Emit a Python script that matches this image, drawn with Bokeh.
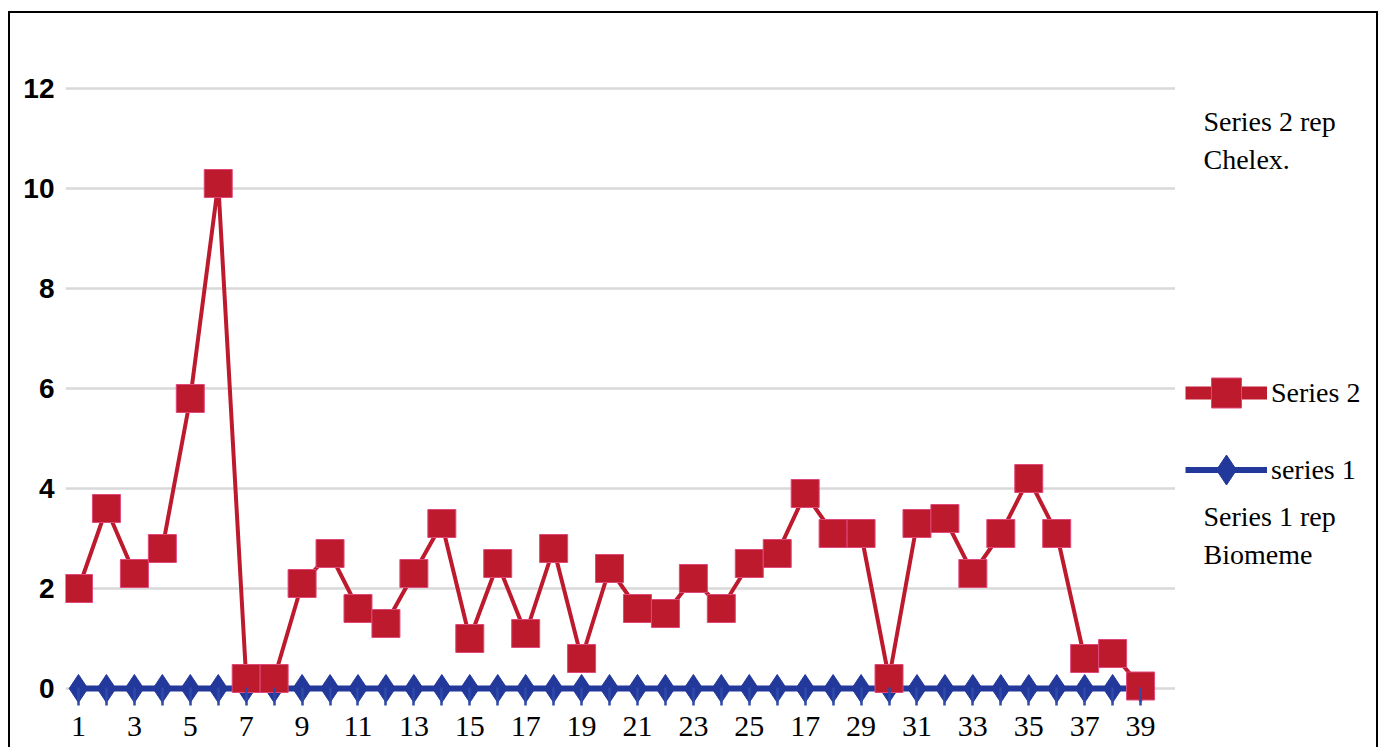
from bokeh.plotting import figure
from bokeh.layouts import row
from bokeh.models import (Range1d, FixedTicker, Legend, LegendItem, Label,
                          ColumnDataSource)
from bokeh.embed import file_html
from bokeh.resources import INLINE

# ---- data ----
samples = list(range(1, 40))
series2 = [2.0, 3.6, 2.3, 2.8, 5.8, 10.1, 0.2, 0.2, 2.1, 2.7,
           1.6, 1.3, 2.3, 3.3, 1.0, 2.5, 1.1, 2.8, 0.6, 2.4,
           1.6, 1.5, 2.2, 1.6, 2.5, 2.7, 3.9, 3.1, 3.1, 0.2,
           3.3, 3.4, 2.3, 3.1, 4.2, 3.1, 0.6, 0.7, 0.05]
series1 = [0, 0, 0, 0, 0, 0, 0, 0, 0, 0,
           0, 0, 0, 0, 0, 0, 0, 0, 0, 0,
           0, 0, 0, 0, 0, 0, 0, 0, 0, 0,
           0, 0, 0, 0, 0, 0, 0, 0, 0]
x_label_positions = [1, 3, 5, 7, 9, 11, 13, 15, 17, 19, 21, 23, 25, 27, 29, 31, 33, 35, 37, 39]
x_label_texts = ["1", "3", "5", "7", "9", "11", "13", "15", "17", "19",
                 "21", "23", "25", "17", "29", "31", "33", "35", "37", "39"]
y_ticks = [0, 2, 4, 6, 8, 10, 12]
note_series2 = ["Series 2 rep", "Chelex."]
note_series1 = ["Series 1 rep", "Biomeme"]
legend_labels = ["Series 2", "series 1"]

RED = "#BE1A2E"
RED_EDGE = "#e0487a"
BLUE = "#22389A"
SERIF = "Liberation Serif"

src = ColumnDataSource(data=dict(x=samples, s1=series1, s2=series2))

# page geometry: border at x=8, y=11 (2px); content starts at (10, 13)
OX, OY = 10, 13
FRAME_L, FRAME_T, FRAME_R, FRAME_B = 65, 30, 1175, 705
PAGE_H = 747

p = figure(width=FRAME_R - OX, height=PAGE_H - OY,
           min_border_left=FRAME_L - OX, min_border_right=0,
           min_border_top=FRAME_T - OY, min_border_bottom=PAGE_H - FRAME_B,
           x_range=Range1d(0.535, 40.25), y_range=Range1d(-0.34, 13.16),
           output_backend="svg", toolbar_location=None,
           background_fill_color="white", border_fill_color="white")
p.outline_line_color = None

# grid
p.xgrid.visible = False
p.ygrid.ticker = FixedTicker(ticks=y_ticks)
p.ygrid.grid_line_color = "#d9d9d9"
p.ygrid.grid_line_width = 2.5

# y axis
p.yaxis.ticker = FixedTicker(ticks=y_ticks)
p.yaxis.axis_line_color = None
p.yaxis.major_tick_line_color = None
p.yaxis.minor_tick_line_color = None
p.yaxis.major_label_text_font = "Liberation Sans"
p.yaxis.major_label_text_font_style = "bold"
p.yaxis.major_label_text_font_size = "28px"
p.yaxis.major_label_text_color = "black"
p.yaxis.major_label_standoff = 5

# x axis
p.xaxis.ticker = FixedTicker(ticks=samples, minor_ticks=[])
overrides = {s: "" for s in samples}
for pos, txt in zip(x_label_positions, x_label_texts):
    overrides[pos] = txt
p.xaxis.major_label_overrides = overrides
p.xaxis.axis_line_color = None
p.xaxis.major_tick_in = 18
p.xaxis.major_tick_out = 0
p.xaxis.major_tick_line_color = "#2f4aa8"
p.xaxis.major_tick_line_width = 2.5
p.xaxis.major_label_text_font = SERIF
p.xaxis.major_label_text_font_size = "30px"
p.xaxis.major_label_text_color = "black"
p.xaxis.major_label_standoff = 11

# series 1 (blue)
p.line("x", "s1", source=src, line_color=BLUE, line_width=6)
p.scatter("x", "s1", source=src, marker="diamond", size=28,
          fill_color=BLUE, line_color=BLUE)

# series 2 (red)
p.line("x", "s2", source=src, line_color=RED, line_width=4)
p.scatter("x", "s2", source=src, marker="square", size=28,
          fill_color=RED, line_color=RED_EDGE, line_width=1)

# ---- right-hand panel: legend and notes ----
P2_W = 1376 - FRAME_R
p2 = figure(width=P2_W, height=PAGE_H - OY,
            min_border_left=0, min_border_right=0, min_border_top=0, min_border_bottom=0,
            x_range=Range1d(0, 1), y_range=Range1d(0, 1),
            x_axis_location=None, y_axis_location=None,
            output_backend="svg", toolbar_location=None,
            background_fill_color="white", border_fill_color="white")
p2.outline_line_color = None
p2.xgrid.visible = False
p2.ygrid.visible = False

# legend sample glyphs: style holders whose single point lies outside the view
legend_src = ColumnDataSource(data=dict(x=[-10], y=[-10]))
lg2_line = p2.line("x", "y", source=legend_src, line_color=RED, line_width=13)
lg2_mark = p2.scatter("x", "y", source=legend_src, marker="square", fill_color=RED,
                      line_color=RED_EDGE, line_width=1)
lg1_line = p2.line("x", "y", source=legend_src, line_color=BLUE, line_width=6)
lg1_mark = p2.scatter("x", "y", source=legend_src, marker="diamond",
                      fill_color=BLUE, line_color=BLUE)

legend = Legend(items=[LegendItem(label=legend_labels[0], renderers=[lg2_line, lg2_mark]),
                       LegendItem(label=legend_labels[1], renderers=[lg1_line, lg1_mark])],
                location=(10, PAGE_H - 549),
                glyph_width=82, glyph_height=75, label_height=75,
                spacing=2, padding=0, margin=0, label_standoff=4,
                border_line_color=None, background_fill_alpha=0,
                label_text_font=SERIF, label_text_font_size="28px",
                label_text_color="black")
p2.add_layout(legend)

for i, t in enumerate(note_series2):
    p2.add_layout(Label(x=1203 - FRAME_R, y=PAGE_H - 163 - 38 * i,
                        x_units="screen", y_units="screen",
                        text=t, text_font=SERIF, text_font_size="28px",
                        text_color="black", text_baseline="alphabetic"))
for i, t in enumerate(note_series1):
    p2.add_layout(Label(x=1203 - FRAME_R, y=PAGE_H - 558 - 38 * i,
                        x_units="screen", y_units="screen",
                        text=t, text_font=SERIF, text_font_size="28px",
                        text_color="black", text_baseline="alphabetic"))

layout = row(p, p2, margin=(11, 0, 0, 8), spacing=0,
             styles={"border-left": "2px solid black",
                     "border-top": "2px solid black",
                     "border-right": "2px solid black"})

open("out.html", "w").write(file_html(layout, INLINE))
